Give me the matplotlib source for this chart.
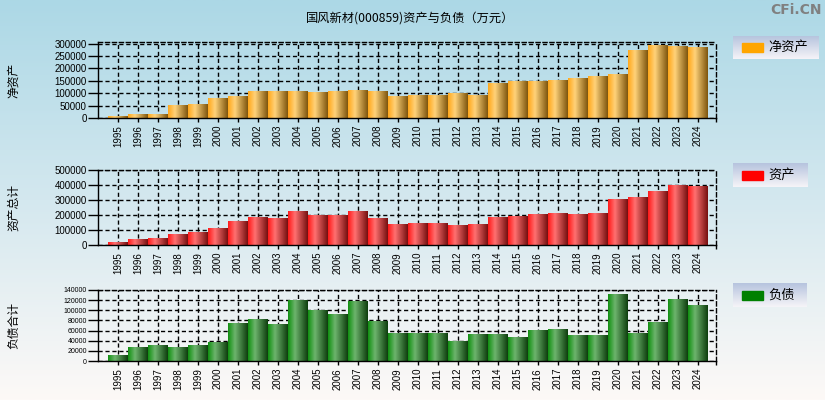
import numpy as np
import matplotlib
matplotlib.use("Agg")
import matplotlib.pyplot as plt
from matplotlib.colors import LinearSegmentedColormap
from matplotlib.patches import Rectangle

plt.rcParams['font.family'] = ['Noto Sans CJK SC', 'DejaVu Sans']

years = [str(y) for y in range(1995, 2025)]

# 净资产 (万元)
net_assets = [9000, 17500, 17500, 52000, 58000, 82000, 90000, 110000, 110000, 110000,
              106000, 110000, 114000, 110000, 90000, 94000, 94000, 99500, 94000, 142500,
              150500, 150500, 154500, 163000, 171000, 179000, 276000, 296000, 292000, 288000]
# 资产总计
total_assets = [22000, 41500, 48000, 74000, 87000, 113500, 159000, 185500, 179000, 225000,
                198500, 198500, 225000, 179000, 140000, 146000, 146000, 133000, 140000, 185500,
                192000, 205000, 212000, 205000, 212000, 303500, 323000, 362000, 401500, 391000]
# 负债合计
total_debt = [11900, 27700, 31700, 27700, 31700, 38300, 75300, 83200, 73300, 120800,
              101000, 93100, 118800, 79200, 55400, 55400, 55400, 39600, 53500, 53500,
              47500, 61400, 63400, 51500, 51500, 132700, 55400, 77200, 122800, 110900]

W, H = 825, 400
fig = plt.figure(figsize=(W / 100, H / 100), dpi=100)

# background gradient
bg = fig.add_axes([0, 0, 1, 1], zorder=-10)
grad = np.linspace(0, 1, 256).reshape(-1, 1)
bg_cmap = LinearSegmentedColormap.from_list('bg', ['#acd8e6', '#d4e8ef', '#fdf9f7'])
bg.imshow(grad, aspect='auto', cmap=bg_cmap, extent=[0, 1, 0, 1])
bg.set_axis_off()


def fig_rect(x0, y0, x1, y1):
    # pixel box (top-left origin) -> figure fraction rect
    return [x0 / W, 1 - y1 / H, (x1 - x0) / W, (y1 - y0) / H]


orange = LinearSegmentedColormap.from_list('o', [(0, '#ffa81c'), (0.35, '#ffd27a'), (1, '#7e560e')])
red = LinearSegmentedColormap.from_list('r', [(0, '#ff1a1a'), (0.35, '#ff7070'), (1, '#761010')])
green = LinearSegmentedColormap.from_list('g', [(0, '#129012'), (0.35, '#6db46d'), (1, '#0e3e0e')])

panels = [
    (net_assets, 307000, 50000, orange, '净资产', '#ffa500', (42, 118), (36, 59, 819), 7),
    (total_assets, 500000, 100000, red, '资产总计', '#ff0000', (170, 245), (163, 187, 808), 7),
    (total_debt, 140000, 20000, green, '负债合计', '#008000', (290, 361), (283, 307, 807), 5),
]
legend_names = ['净资产', '资产', '负债']

hgrad = np.linspace(0, 1, 64).reshape(1, -1)
x = np.arange(len(years))

for i, (vals, ymax, ystep, cmap, ylab, lcol, (top, bot), (ltop, lbot, lright), yfs) in enumerate(panels):
    ax = fig.add_axes(fig_rect(98, top, 716, bot))
    ax.patch.set_alpha(0)
    bars = ax.bar(x, vals, width=1.0, color='none', edgecolor='none')
    for b in bars:
        im = ax.imshow(hgrad, aspect='auto', cmap=cmap,
                       extent=[b.get_x(), b.get_x() + b.get_width(), 0, b.get_height()],
                       zorder=2)
        im.set_clip_path(b)
    ax.set_xlim(-1, 29.9)
    ax.set_ylim(0, ymax)
    ax.set_xticks(x)
    ax.set_xticklabels(years, rotation=90, fontsize=7, family='Liberation Sans')
    ax.set_xticks([29.9], minor=True)
    ax.set_yticks(np.arange(0, ymax + 1, ystep))
    ax.set_yticklabels([str(int(v)) for v in np.arange(0, ymax + 1, ystep)],
                       fontsize=yfs, family='Liberation Sans')
    ax.tick_params(axis='y', length=7, width=1, pad=1)
    ax.tick_params(axis='x', which='both', length=3, width=1, pad=2)
    ax.set_axisbelow(True)
    ax.grid(True, color='black', linestyle=(0, (3, 2)), linewidth=1)
    for s in ['top', 'right']:
        ax.spines[s].set_linestyle((0, (3, 2)))
    for s in ax.spines.values():
        s.set_linewidth(1)
    fig.text(14 / W, 1 - (top + bot) / 2 / H, ylab, rotation=90, ha='center', va='center',
             fontsize=8.5)

    # legend box
    lax = fig.add_axes(fig_rect(733, ltop, lright, lbot))
    lax.imshow(grad, aspect='auto', extent=[0, lright - 733, 0, lbot - ltop],
               cmap=LinearSegmentedColormap.from_list('l', ['#b6c4de', '#f6f4f8']))
    lax.set_xlim(0, lright - 733)
    lax.set_ylim(0, lbot - ltop)
    lax.add_patch(Rectangle((9, (lbot - ltop) / 2 - 4.5), 21, 9, color=lcol))
    lax.text(35, (lbot - ltop) / 2, legend_names[i], va='center', ha='left', fontsize=9.5)
    lax.set_axis_off()

fig.text(410 / W, 1 - 18 / H, '国风新材(000859)资产与负债（万元）', ha='center', va='center',
         fontsize=8.8)
fig.text(822 / W, 1 - 10 / H, 'CFi.CN', ha='right', va='center', fontsize=10,
         color='#808080', fontweight='bold', family='DejaVu Sans')

fig.savefig('out.png', dpi=100)
